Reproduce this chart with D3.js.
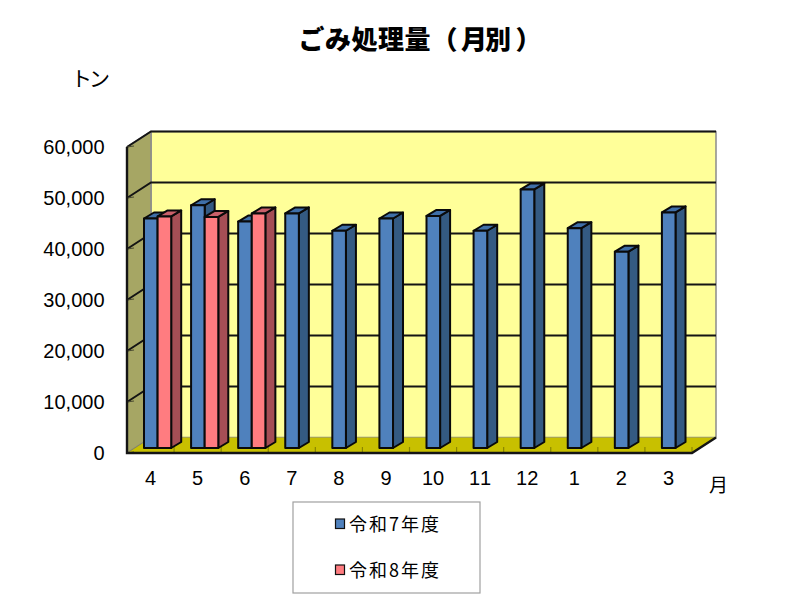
<!DOCTYPE html>
<html><head><meta charset="utf-8">
<style>html,body{margin:0;padding:0;background:#fff}svg{display:block}text{font-feature-settings:"palt" 0,"chws" 0,"halt" 0;font-kerning:none}</style>
<script src="https://cdn.jsdelivr.net/npm/d3@7"></script>
</head><body><svg id="c" width="800" height="610"></svg>
<script>
const months = ["4","5","6","7","8","9","10","11","12","1","2","3"];
const seriesNames = ["令和7年度","令和8年度"];
const r7 = [45000,47600,44400,46000,42600,45000,45500,42600,50700,43100,38500,46200];
const r8 = [45400,45300,46000];
const yTicks = [0,10000,20000,30000,40000,50000,60000];
const titleChars = ["ご","み","処","理","量","（","月","別","）"];

const svg = d3.select("#c");
const cjk = "'Noto Sans CJK JP','Noto Sans CJK SC',sans-serif";
const lat = "'Liberation Sans',Arial,sans-serif";
const DX = 24, DY = -15.5;
const bdx = 10, bdy = -6;
const fx = 7, fy = -5;
const x = d3.scaleBand().domain(d3.range(12)).range([127,692]);
const y = d3.scaleLinear().domain([0,60000]).range([453,147]);
const bw = 13.6, bar0 = 10;

const L = x.range()[0], R = x.range()[1], Y0 = y(0), Y1 = y(60000);
const poly = (pts,fill,stroke,sw) => svg.append("polygon").attr("points",pts.map(p=>p.join(",")).join(" "))
  .attr("fill",fill).attr("stroke",stroke||"none").attr("stroke-width",sw||0).attr("stroke-linejoin","round");
poly([[L+DX,Y1+DY],[R+DX,Y1+DY],[R+DX,Y0+DY],[L+DX,Y0+DY]],"#FFFF99","#8c8c8c",1.5);
poly([[L,Y1],[L+DX,Y1+DY],[L+DX,Y0+DY],[L,Y0]],"#A6A664","#8c8c8c",1.5);
poly([[L,Y0],[L+DX,Y0+DY],[R+DX,Y0+DY],[R,Y0]],"#C8C000");

yTicks.forEach(t=>{
  const yy=y(t);
  if(t>0){
    svg.append("path").attr("d",`M${L},${yy}L${L+DX},${yy+DY}L${R+DX},${yy+DY}`)
      .attr("fill","none").attr("stroke","#141414").attr("stroke-width",2);
  }
  svg.append("line").attr("x1",L).attr("x2",L+7).attr("y1",yy).attr("y2",yy-1)
    .attr("stroke","#4a4a30").attr("stroke-width",1.2);
});
d3.range(1,13).forEach(i=>{
  const xx=L+x.step()*i;
  svg.append("line").attr("x1",xx).attr("x2",xx).attr("y1",Y0).attr("y2",Y0-6).attr("stroke","#8a8600").attr("stroke-width",1.2);
});
svg.append("path").attr("d",`M${L+DX},${Y0+DY}L${L},${Y0}`).attr("stroke","#8a8a50").attr("stroke-width",1).attr("fill","none");
svg.append("path").attr("d",`M${L},${Y1}L${L},${Y0}L${R},${Y0}L${R+DX},${Y0+DY}`)
  .attr("fill","none").attr("stroke","#141414").attr("stroke-width",2.4);

function bar(i,slot,v,c){
  const x0=x(i)+bar0+fx+slot*bw, x1=x0+bw, b=Y0+fy, t=y(v)+fy;
  const s=svg.append("g").attr("stroke","#0a0a0a").attr("stroke-width",2).attr("stroke-linejoin","round");
  s.append("polygon").attr("points",`${x1},${t} ${x1+bdx},${t+bdy} ${x1+bdx},${b+bdy} ${x1},${b}`).attr("fill",c.side);
  s.append("polygon").attr("points",`${x0},${t} ${x0+bdx},${t+bdy} ${x1+bdx},${t+bdy} ${x1},${t}`).attr("fill",c.top);
  s.append("rect").attr("x",x0).attr("y",t).attr("width",bw).attr("height",b-t).attr("fill",c.front);
}
const blue={front:"#4F81BD",side:"#345A82",top:"#3F6FA8"}, pink={front:"#FF7C80",side:"#A54E55",top:"#C9606A"};
months.forEach((m,i)=>{
  bar(i,0,r7[i],blue);
  if(r8[i]!=null) bar(i,1,r8[i],pink);
});

const fmt=d3.format(",");
yTicks.forEach(t=>svg.append("text").attr("x",104.5).attr("y",y(t)).attr("dy","0.36em").attr("text-anchor","end")
  .attr("font-family",lat).attr("font-size",20).attr("fill","#000").text(fmt(t)));
months.forEach((m,i)=>svg.append("text").attr("x",x(i)+x.bandwidth()/2).attr("y",485).attr("text-anchor","middle")
  .attr("font-family",lat).attr("font-size",20).attr("fill","#000").text(m));

const titleStarts=[298.5,325,351.5,378,404.5,431.5,461,485,515.5];
const title=svg.append("text").attr("y",49).attr("font-family",cjk).attr("font-weight",900).attr("font-size",26).attr("fill","#000");
titleChars.forEach((ch,i)=>title.append("tspan").attr("x",titleStarts[i]).text(ch));
svg.append("text").attr("x",71).attr("y",86).attr("font-family",cjk).attr("font-size",21).attr("letter-spacing","-3px").attr("fill","#000").text("トン");
svg.append("text").attr("x",709).attr("y",492).attr("font-family",cjk).attr("font-size",19).attr("fill","#000").text("月");

svg.append("rect").attr("x",293).attr("y",502).attr("width",187).attr("height",91).attr("fill","#fff").attr("stroke","#a0a0a0").attr("stroke-width",1.2);
seriesNames.forEach((n,i)=>{
  const ly=[524,570][i];
  svg.append("rect").attr("x",335.5).attr("y",ly-5).attr("width",9).attr("height",9.5).attr("fill",[blue,pink][i].front).attr("stroke","#111").attr("stroke-width",1.2);
  svg.append("text").attr("x",349).attr("y",ly+7).attr("font-family",cjk).attr("font-size",18).attr("letter-spacing","2px").attr("fill","#000").text(n);
});
</script></body></html>
